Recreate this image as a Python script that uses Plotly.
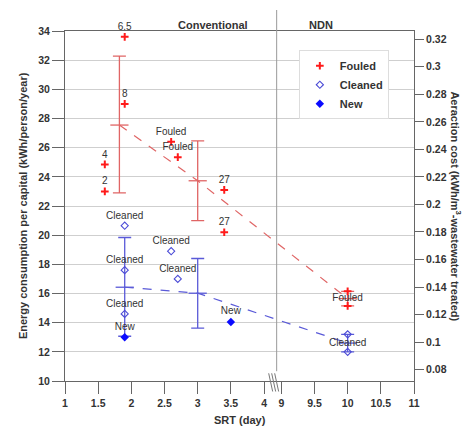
import plotly.graph_objects as go

# ---------------- data ----------------
fouled_x = [1.6, 1.6, 1.9, 1.9, 2.6, 2.7, 3.4, 3.4]
fouled_y = [23.0, 24.85, 29.0, 33.6, 26.4, 25.35, 23.1, 20.2]
fouled_lbl = ["2", "4", "8", "6.5", "Fouled", "Fouled", "27", "27"]
fouled_ndn_x = [10, 10]
fouled_ndn_y = [16.15, 15.15]

cleaned_x = [1.9, 1.9, 1.9, 2.6, 2.7]
cleaned_y = [20.65, 17.6, 14.6, 18.9, 17.0]
cleaned_lbl = ["Cleaned", "Cleaned", "Cleaned", "Cleaned", "Cleaned"]
cleaned_ndn_x = [10, 10]
cleaned_ndn_y = [13.2, 12.0]

new_x = [1.9, 3.5]
new_y = [13.0, 14.05]
new_lbl = ["New", "New"]

fouled_mean_x = [1.82, 3, 10]
fouled_mean = [27.55, 23.73, 15.65]
fouled_plus = [4.73, 2.74, 0.5]
fouled_minus = [4.65, 2.73, 0.5]

cleaned_mean_x = [1.9, 3, 10]
cleaned_mean = [16.43, 16.02, 12.6]
cleaned_plus = [3.41, 2.38, 0.6]
cleaned_minus = [3.36, 2.4, 0.6]

ndn_lbl_x = [10, 10]
ndn_lbl_y = [15.65, 12.6]
ndn_lbl = ["Fouled", "Cleaned"]

x_ticks = [1, 1.5, 2, 2.5, 3, 3.5, 4, 9, 9.5, 10, 10.5, 11]
x_tick_text = ["1", "1.5", "2", "2.5", "3", "3.5", "4", "9", "9.5", "10", "10.5", "11"]
y_ticks = list(range(10, 35, 2))
y2_ticks = [0.08, 0.10, 0.12, 0.14, 0.16, 0.18, 0.20, 0.22, 0.24, 0.26, 0.28, 0.30, 0.32]
y2_tick_text = ["0.08", "0.1", "0.12", "0.14", "0.16", "0.18", "0.2", "0.22", "0.24",
                "0.26", "0.28", "0.3", "0.32"]

# broken x axis: values beyond the break are shifted left
SHIFT = 4.74
BREAK_AT = 5


def bx(vals):
    return [v - SHIFT if v > BREAK_AT else v for v in vals]


RED = "#ff1a1a"
RED_L = "#e06565"
BLUE_O = "#4b4bd6"
BLUE = "#0a0aff"
BLUE_L = "#5a5ad8"
TXT = "#333333"
FONT = "Liberation Sans, Arial, sans-serif"

fig = go.Figure()

# dashed trend lines through means
fig.add_trace(go.Scatter(x=bx(fouled_mean_x), y=fouled_mean, mode="lines",
                         line=dict(color=RED_L, width=1.2, dash="dash"),
                         showlegend=False, hoverinfo="skip"))
fig.add_trace(go.Scatter(x=bx(cleaned_mean_x), y=cleaned_mean, mode="lines",
                         line=dict(color=BLUE_L, width=1.2, dash="dash"),
                         showlegend=False, hoverinfo="skip"))

# error bars (mean +/- sd)
fig.add_trace(go.Scatter(x=bx(fouled_mean_x), y=fouled_mean, mode="markers",
                         marker=dict(symbol="line-ew-open", size=13, color=RED_L,
                                     line=dict(color=RED_L, width=1.3)),
                         error_y=dict(type="data", array=fouled_plus, arrayminus=fouled_minus,
                                      color=RED_L, thickness=1.3, width=6.5),
                         showlegend=False, hoverinfo="skip"))
fig.add_trace(go.Scatter(x=bx(cleaned_mean_x), y=cleaned_mean, mode="markers",
                         marker=dict(symbol="line-ew-open", size=13, color=BLUE_L,
                                     line=dict(color=BLUE_L, width=1.3)),
                         error_y=dict(type="data", array=cleaned_plus, arrayminus=cleaned_minus,
                                      color=BLUE_L, thickness=1.3, width=6.5),
                         showlegend=False, hoverinfo="skip"))

fouled_marker = dict(symbol="cross-thin-open", size=5.5, color=RED, line=dict(color=RED, width=2))
cleaned_marker = dict(symbol="diamond-open", size=5.5, color=BLUE_O, line=dict(width=1.1))
lbl_font = dict(family=FONT, size=10, color=TXT)

# points
fig.add_trace(go.Scatter(x=bx(fouled_x), y=fouled_y, mode="markers+text", name="Fouled",
                         marker=fouled_marker, legendgroup="f",
                         text=fouled_lbl, textposition="top center", cliponaxis=False,
                         textfont=lbl_font))
fig.add_trace(go.Scatter(x=bx(fouled_ndn_x), y=fouled_ndn_y, mode="markers",
                         marker=fouled_marker, legendgroup="f", showlegend=False))
fig.add_trace(go.Scatter(x=bx(cleaned_x), y=cleaned_y, mode="markers+text", name="Cleaned",
                         marker=cleaned_marker, legendgroup="c",
                         text=cleaned_lbl, textposition="top center", cliponaxis=False,
                         textfont=lbl_font))
fig.add_trace(go.Scatter(x=bx(cleaned_ndn_x), y=cleaned_ndn_y, mode="markers",
                         marker=cleaned_marker, legendgroup="c", showlegend=False))
fig.add_trace(go.Scatter(x=bx(new_x), y=new_y, mode="markers+text", name="New",
                         marker=dict(symbol="diamond", size=6.5, color=BLUE),
                         text=new_lbl, textposition="top center", cliponaxis=False,
                         textfont=lbl_font))
fig.add_trace(go.Scatter(x=bx(ndn_lbl_x), y=ndn_lbl_y, mode="text", text=ndn_lbl,
                         textposition="middle center", cliponaxis=False,
                         textfont=lbl_font, showlegend=False, hoverinfo="skip"))

# dummy trace to attach right axis
fig.add_trace(go.Scatter(x=[None], y=[None], yaxis="y2", showlegend=False, hoverinfo="skip"))

AX_LINE = "#666666"
tickfont = dict(family=FONT, size=10.5, color=TXT, weight="bold")

fig.update_layout(
    width=470, height=435,
    margin=dict(l=65, r=56, t=31, b=54),
    plot_bgcolor="white", paper_bgcolor="white",
    font=dict(family=FONT, color=TXT),
    xaxis=dict(range=[1, 11 - SHIFT], tickvals=bx(x_ticks), ticktext=x_tick_text,
               ticks="outside", ticklen=12, tickcolor=AX_LINE, tickwidth=1,
               showline=True, linecolor=AX_LINE, linewidth=1, mirror=True,
               showgrid=False, zeroline=False, tickfont=tickfont),
    yaxis=dict(range=[10, 34], tickvals=y_ticks,
               ticks="outside", ticklen=12, tickcolor=AX_LINE,
               showline=True, linecolor=AX_LINE, linewidth=1,
               showgrid=True, gridcolor="#cfcfcf", gridwidth=1, zeroline=False,
               tickfont=tickfont),
    yaxis2=dict(overlaying="y", side="right", range=[0.0717, 0.326],
                tickvals=y2_ticks, ticktext=y2_tick_text,
                ticks="outside", ticklen=9, tickcolor=AX_LINE,
                showline=True, linecolor=AX_LINE, linewidth=1,
                showgrid=False, zeroline=False, tickfont=tickfont),
    legend=dict(x=0.67, y=0.945, xanchor="left", yanchor="top",
                bgcolor="white", bordercolor="#dddddd", borderwidth=1,
                tracegroupgap=0,
                font=dict(family=FONT, size=11, color=TXT, weight="bold")),
    showlegend=True,
)

# section divider and axis break
fig.add_shape(type="line", xref="x", yref="paper", x0=4.19, x1=4.19, y0=0.028, y1=1.06,
              line=dict(color="#999999", width=1))
for dx in [0.0, 0.045, 0.09]:
    fig.add_shape(type="line", xref="x", yref="paper", x0=4.07 + dx, x1=4.13 + dx,
                  y0=0.022, y1=-0.03, line=dict(color="#777777", width=1))

annots = [
    dict(x=3.23, y=1.04, xref="x", yref="paper", text="Conventional", showarrow=False,
         font=dict(family=FONT, size=11, color=TXT, weight="bold")),
    dict(x=4.86, y=1.04, xref="x", yref="paper", text="NDN", showarrow=False,
         font=dict(family=FONT, size=11, color=TXT, weight="bold")),
    dict(x=0.5, y=-0.135, xref="paper", yref="paper", text="SRT (day)", showarrow=False,
         font=dict(family=FONT, size=11, color=TXT, weight="bold")),
    dict(x=-0.143, y=0.5, xref="paper", yref="paper", textangle=-90, showarrow=False,
         text="Energy consumption per capital (kWh/person/year)",
         font=dict(family=FONT, size=11, color=TXT, weight="bold")),
    dict(x=1.145, y=0.5, xref="paper", yref="paper", textangle=90, showarrow=False,
         text="Aeraction cost (kWh/m<sup>3</sup>-wastewater treated)",
         font=dict(family=FONT, size=11, color=TXT, weight="bold")),
]
for a in annots:
    fig.add_annotation(**a)

fig.write_html("out.html", config={"displayModeBar": False},
               post_script="document.body.style.margin='0';")
